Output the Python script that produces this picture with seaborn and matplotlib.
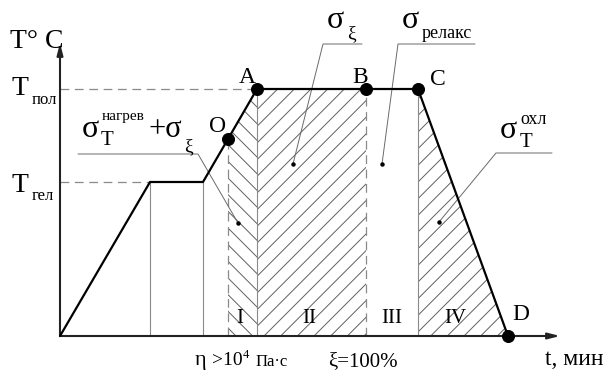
import matplotlib
matplotlib.use("Agg")
import matplotlib.pyplot as plt
import seaborn as sns

sns.set_style("white")
plt.rcParams["font.family"] = ["Liberation Serif", "DejaVu Serif"]
plt.rcParams["hatch.color"] = "#606060"
plt.rcParams["hatch.linewidth"] = 0.7

# Temperature-time profile of the curing cycle (arbitrary units)
T_gel = 15.4
T_pol = 24.7
t_profile = [0.0, 9.0, 14.3, 16.8, 19.7, 30.6, 35.8, 44.8]
T_profile = [0.0, T_gel, T_gel, 19.7, T_pol, T_pol, T_pol, 0.0]

# Characteristic points on the profile
point_labels = ["O", "A", "B", "C", "D"]
point_t = [16.8, 19.7, 30.6, 35.8, 44.8]
point_T = [19.7, T_pol, T_pol, T_pol, 0.0]

# Stages of the cycle
stage_labels = ["I", "II", "III", "IV"]
stage_t = [18.0, 24.9, 33.2, 39.5]

# Axis extents
t_axis_end = 50.0
T_axis_end = 29.3

fig = plt.figure(figsize=(6.13, 3.70), dpi=100)
ax = fig.add_axes([0, 0, 1, 1])
ax.set_xlim(-6.0, 55.3)
ax.set_ylim(-3.4, 33.6)
ax.axis("off")

grey = "#8a8a8a"
lead = "#6a6a6a"

# Hatched stress zones
ax.fill_between(t_profile[3:5], T_profile[3:5], 0, facecolor="none",
                edgecolor="#606060", hatch="\\\\", linewidth=0)
ax.fill_between(t_profile[4:6], T_profile[4:6], 0, facecolor="none",
                edgecolor="#606060", hatch="//", linewidth=0)
ax.fill_between(t_profile[6:8], T_profile[6:8], 0, facecolor="none",
                edgecolor="#606060", hatch="//", linewidth=0)

# Reference levels
dash = (0, (7, 4.5))
ax.plot([0, point_t[1]], [T_pol, T_pol], color=grey, lw=0.9, ls=dash)
ax.plot([0, t_profile[1]], [T_gel, T_gel], color=grey, lw=0.9, ls=dash)

# Stage boundaries
for t, T in [(t_profile[1], T_gel), (t_profile[2], T_gel),
             (point_t[1], T_pol), (point_t[3], T_pol)]:
    ax.plot([t, t], [0, T], color=grey, lw=0.8)
for t, T in [(point_t[0], point_T[0]), (point_t[2], point_T[2])]:
    ax.plot([t, t], [0, T], color=grey, lw=0.9, ls=dash)

# Profile curve and points
sns.lineplot(x=t_profile, y=T_profile, sort=False, estimator=None,
             color="black", lw=1.6, ax=ax, zorder=4)
sns.scatterplot(x=point_t, y=point_T, s=75, color="black",
                edgecolor="black", ax=ax, zorder=5, legend=False)

# Axes with arrows
arrow = dict(arrowstyle="-|>,head_length=0.7,head_width=0.18",
             color="#222222", lw=1.5, shrinkA=0, shrinkB=0)
ax.annotate("", xy=(t_axis_end, 0), xytext=(0, 0), arrowprops=arrow, zorder=3)
ax.annotate("", xy=(0, T_axis_end), xytext=(0, 0), arrowprops=arrow, zorder=3)

# Leader lines for stress components
leaders = [
    [(1.8, 18.2), (13.8, 18.2), (17.8, 11.3)],
    [(30.2, 29.2), (26.3, 29.2), (23.3, 17.2)],
    [(41.5, 29.2), (33.8, 29.2), (32.2, 17.2)],
    [(49.2, 18.3), (43.6, 18.3), (37.9, 11.4)],
]
for pts in leaders:
    xs, ys = zip(*pts)
    ax.plot(xs, ys, color=lead, lw=0.7)
    ax.plot(xs[-1], ys[-1], "o", color="black", ms=2.2)

txt = dict(color="black", va="baseline")

# Axis captions
ax.text(-5.0, 28.8, "T° C", fontsize=20, **txt)
ax.text(-4.8, 24.1, "T", fontsize=20, **txt)
ax.text(-2.8, 23.2, "пол", fontsize=12, **txt)
ax.text(-4.8, 14.4, "T", fontsize=20, **txt)
ax.text(-2.8, 13.6, "гел", fontsize=12, **txt)
ax.text(48.5, -2.9, "t, мин", fontsize=17, **txt)

# Point labels
label_pos = {"O": (15.8, 20.4), "A": (18.7, 25.3), "B": (30.0, 25.3),
             "C": (37.8, 25.1), "D": (46.1, 1.6)}
for name in point_labels:
    x, y = label_pos[name]
    ax.text(x, y, name, fontsize=17, ha="center", **txt)

# Stage numerals
for name, t in zip(stage_labels, stage_t):
    ax.text(t, 1.3, name, fontsize=15, ha="center", **txt)

# Stress component labels
ax.text(2.2, 19.9, "σ", fontsize=23, **txt)
ax.text(4.1, 19.1, "T", fontsize=15, **txt)
ax.text(4.2, 21.6, "нагрев", fontsize=11, **txt)
ax.text(8.9, 19.9, "+σ", fontsize=22, **txt)
ax.text(12.4, 18.5, "ξ", fontsize=14, **txt)

ax.text(26.7, 30.8, "σ", fontsize=23, **txt)
ax.text(28.7, 29.8, "ξ", fontsize=14, **txt)

ax.text(34.2, 30.8, "σ", fontsize=23, **txt)
ax.text(36.2, 29.8, "релакс", fontsize=13, **txt)

ax.text(44.0, 19.8, "σ", fontsize=23, **txt)
ax.text(46.0, 18.9, "T", fontsize=15, **txt)
ax.text(46.0, 21.2, "охл", fontsize=13, **txt)

# Threshold captions under the time axis
ax.text(13.5, -2.9, "η", fontsize=16, **txt)
ax.text(15.2, -2.9, ">10", fontsize=14, **txt)
ax.text(18.3, -2.2, "4", fontsize=9, **txt)
ax.text(19.6, -3.0, "Па·с", fontsize=12, **txt)
ax.text(26.8, -3.0, "ξ=100%", fontsize=15, **txt)

fig.savefig("out.png", dpi=100)
